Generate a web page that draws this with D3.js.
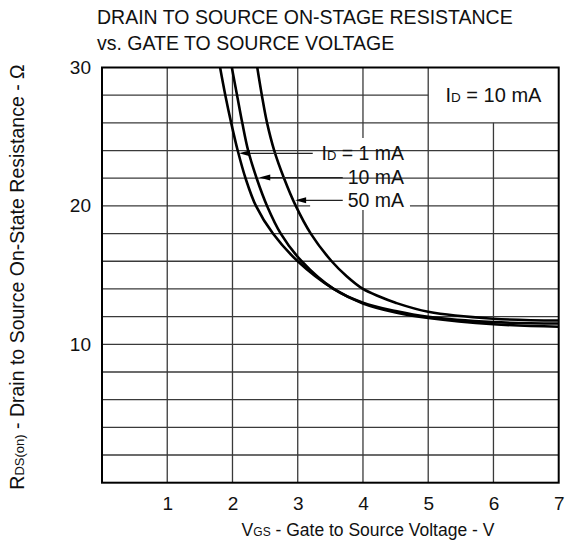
<!DOCTYPE html>
<html lang="en">
  <style>
    body {
      margin: 0;
      background: #fff;
    }
    svg text {
      font-family: "Liberation Sans", Arial, Helvetica, sans-serif;
      fill: #111;
    }
  </style>

  <head>
    <script src="https://d3js.org/d3.v7.min.js"></script>
  </head>

  <body>
    <svg width="567" height="550"></svg>
    <script>
      // curves (VGS in V, RDS(on) in ohm)
      var vgs1mA = [1.81, 1.89, 1.98, 2.08, 2.2, 2.36, 2.62, 3.0, 3.55, 4.0, 4.5, 5.0, 6.0, 7.0];
      var rds1mA = [30, 28, 26, 24, 22, 20, 18, 16, 14, 12.95, 12.3, 11.9, 11.45, 11.27];

      var vgs10mA = [1.99, 2.07, 2.15, 2.24, 2.37, 2.53, 2.74, 3.06, 3.55, 4.0, 4.5, 5.0, 6.0, 7.0];
      var rds10mA = [30, 28, 26, 24, 22, 20, 18, 16, 14, 13.0, 12.4, 11.98, 11.6, 11.5];

      var vgs50mA = [2.38, 2.45, 2.53, 2.64, 2.79, 2.97, 3.2, 3.52, 3.75, 4.0, 4.25, 4.5, 5.0, 6.0, 7.0];
      var rds50mA = [30, 28, 26, 24, 22, 20, 18, 16, 14.92, 14.0, 13.45, 13.0, 12.35, 11.85, 11.72];

      var xTicks = [1, 2, 3, 4, 5, 6, 7];
      var yTicks = [10, 20, 30];
      var xGrid = [1, 2, 3, 4, 5, 6];
      var yGrid = [2, 4, 6, 8, 10, 12, 14, 16, 18, 20, 22, 24, 26, 28];

      // annotation leaders: label, arrow tip (V, ohm), end of leader (V)
      var labelNames = ["1 mA", "10 mA", "50 mA"];
      var labelTipV = [2.1, 2.41, 2.96];
      var labelTipR = [23.8, 22.05, 20.4];
      var labelLineEndV = [3.23, 3.69, 3.69];

      var margin = { top: 67.5, bottom: 67.3, left: 102, right: 8.3 };
      var width = 567 - margin.left - margin.right;
      var height = 550 - margin.top - margin.bottom;
      var svg = d3.select("svg");

      var x = d3.scaleLinear().domain([0, 7]).range([0, width]);
      var y = d3.scaleLinear().domain([0, 30]).range([height, 0]);

      // title
      svg
        .append("text")
        .attr("x", 97)
        .attr("y", 24)
        .style("font-size", "19.5px")
        .text("DRAIN TO SOURCE ON-STAGE RESISTANCE");
      svg
        .append("text")
        .attr("x", 97)
        .attr("y", 50)
        .style("font-size", "19.5px")
        .text("vs. GATE TO SOURCE VOLTAGE");

      var g = svg
        .append("g")
        .attr("transform", "translate(" + margin.left + "," + margin.top + ")");

      g.append("defs")
        .append("clipPath")
        .attr("id", "plotClip")
        .append("rect")
        .attr("width", width)
        .attr("height", height);

      // grid lines, with the breaks the datasheet leaves for its labels
      var vGaps = { 4: [19.7, 24.9], 6: [26, 30] };
      var hGaps = { 20: [3.19, 4.72], 28: [5, 7] };

      var gridG = g.append("g").attr("class", "grid");
      xGrid.forEach(function (v) {
        var segs = vGaps[v] ? [[0, vGaps[v][0]], [vGaps[v][1], 30]] : [[0, 30]];
        segs.forEach(function (s) {
          if (s[1] - s[0] <= 0) return;
          gridG
            .append("line")
            .attr("x1", x(v))
            .attr("x2", x(v))
            .attr("y1", y(s[0]))
            .attr("y2", y(s[1]))
            .attr("stroke", "#3a3a3a")
            .attr("stroke-width", 1.3);
        });
      });
      yGrid.forEach(function (r) {
        var segs = hGaps[r] ? [[0, hGaps[r][0]], [hGaps[r][1], 7]] : [[0, 7]];
        segs.forEach(function (s) {
          if (s[1] - s[0] <= 0) return;
          gridG
            .append("line")
            .attr("x1", x(s[0]))
            .attr("x2", x(s[1]))
            .attr("y1", y(r))
            .attr("y2", y(r))
            .attr("stroke", "#3a3a3a")
            .attr("stroke-width", 1.3);
        });
      });

      // frame
      g.append("rect")
        .attr("width", width)
        .attr("height", height)
        .attr("fill", "none")
        .attr("stroke", "#000")
        .attr("stroke-width", 2);

      // axes (labels only, no tick marks)
      var xAxis = g
        .append("g")
        .attr("transform", "translate(0," + height + ")")
        .call(
          d3.axisBottom(x).tickValues(xTicks).tickFormat(d3.format("d")).tickSize(0).tickPadding(14)
        );
      xAxis.select(".domain").remove();
      xAxis
        .selectAll("text")
        .style("font-size", "19px")
        .style("font-family", "'Liberation Sans', Arial, sans-serif")
        .attr("fill", "#111");

      var yAxis = g
        .append("g")
        .call(d3.axisLeft(y).tickValues(yTicks).tickSize(0).tickPadding(11));
      yAxis.select(".domain").remove();
      yAxis
        .selectAll("text")
        .style("font-size", "19px")
        .style("font-family", "'Liberation Sans', Arial, sans-serif")
        .attr("fill", "#111");

      // curves
      var series = [
        { v: vgs1mA, r: rds1mA },
        { v: vgs10mA, r: rds10mA },
        { v: vgs50mA, r: rds50mA },
      ];
      var line = d3
        .line()
        .x(function (d) { return x(d[0]); })
        .y(function (d) { return y(d[1]); })
        .curve(d3.curveCatmullRom.alpha(0.5));

      g.append("g")
        .attr("clip-path", "url(#plotClip)")
        .selectAll("path")
        .data(series)
        .enter()
        .append("path")
        .attr("d", function (s) {
          return line(s.v.map(function (v, i) { return [v, s.r[i]]; }));
        })
        .attr("fill", "none")
        .attr("stroke", "#000")
        .attr("stroke-width", 2.6);

      // leaders with arrow heads, and their labels
      labelNames.forEach(function (name, i) {
        var tx = x(labelTipV[i]);
        var ty = y(labelTipR[i]);
        g.append("line")
          .attr("x1", tx + 8)
          .attr("y1", ty)
          .attr("x2", x(labelLineEndV[i]))
          .attr("y2", ty)
          .attr("stroke", "#222")
          .attr("stroke-width", 1.2);
        g.append("path")
          .attr("d", "M" + tx + "," + ty + "L" + (tx + 11) + "," + (ty - 3) + "L" + (tx + 11) + "," + (ty + 3) + "Z")
          .attr("fill", "#000");

        var t = g
          .append("text")
          .attr("x", x(4.63))
          .attr("y", ty)
          .attr("dy", "0.35em")
          .attr("text-anchor", "end")
          .style("font-size", "19.5px");
        if (i === 0) {
          t.append("tspan").text("I");
          t.append("tspan").style("font-size", "13px").text("D");
          t.append("tspan").text(" = " + name);
        } else {
          t.text(name);
        }
      });

      // boxed condition label
      var box = g
        .append("text")
        .attr("x", x(6))
        .attr("y", y(28))
        .attr("dy", "0.35em")
        .attr("text-anchor", "middle")
        .style("font-size", "20px");
      box.append("tspan").text("I");
      box.append("tspan").style("font-size", "13.5px").text("D");
      box.append("tspan").text(" = 10 mA");

      // axis titles
      var xTitle = svg
        .append("text")
        .attr("x", 368)
        .attr("y", 536)
        .attr("text-anchor", "middle")
        .style("font-size", "17.5px");
      xTitle.append("tspan").text("V");
      xTitle.append("tspan").style("font-size", "12px").text("GS");
      xTitle.append("tspan").text(" - Gate to Source Voltage - V");

      var yTitle = svg
        .append("text")
        .attr("transform", "translate(24,277) rotate(-90)")
        .attr("text-anchor", "middle")
        .style("font-size", "19.5px");
      yTitle.append("tspan").text("R");
      yTitle.append("tspan").style("font-size", "13px").text("DS(on)");
      yTitle.append("tspan").text(" - Drain to Source On-State Resistance - \u03a9");
    </script>
  </body>
</html>
